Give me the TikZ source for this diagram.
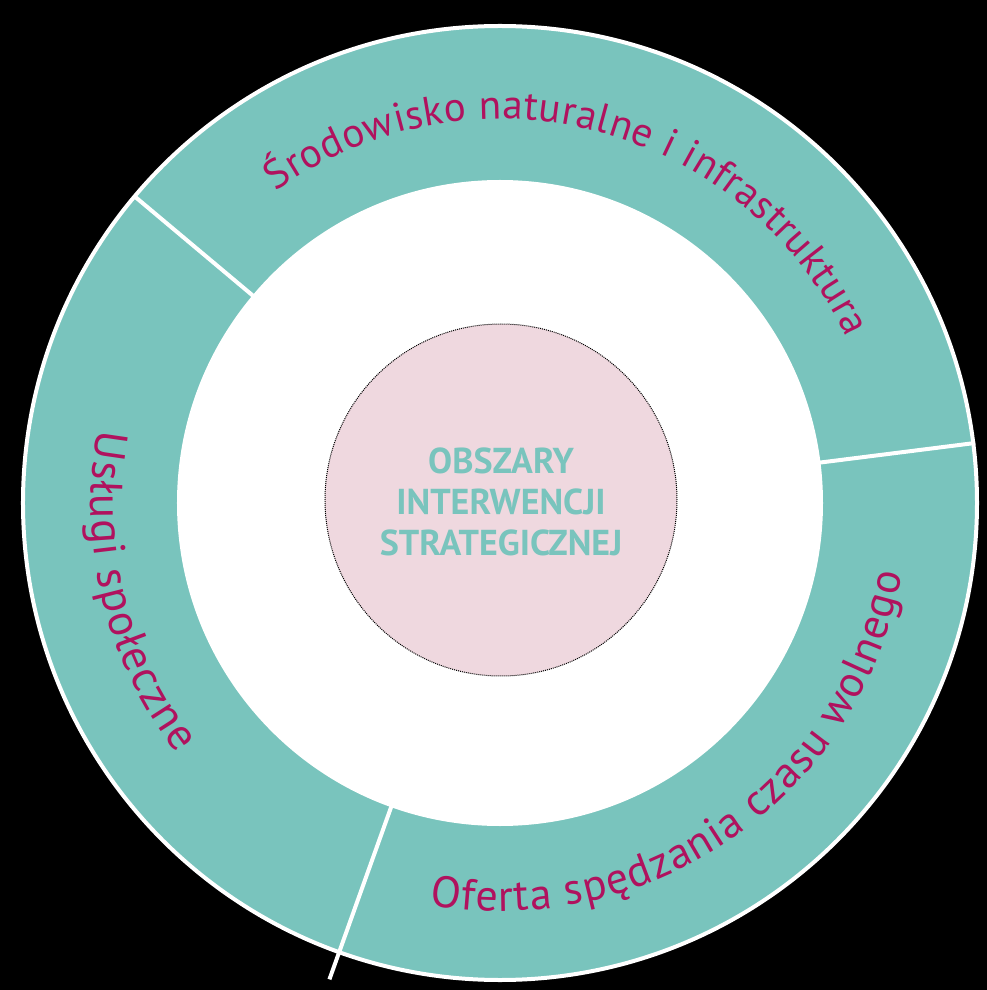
\documentclass[tikz,border=0pt]{standalone}
\usepackage{fontspec}
\setmainfont{PT Sans}
\usetikzlibrary{decorations.text}
\definecolor{ringteal}{HTML}{79C4BD}
\definecolor{corepink}{HTML}{EFD8DF}
\definecolor{labelmag}{HTML}{B0125E}
\begin{document}
\begin{tikzpicture}[x=1pt,y=1pt,
  sepline/.style={white, line width=4pt},
  arclabel/.style={decorate, decoration={text along path, text align=fit to path, text color=labelmag}},
  corestyle/.style={circle, fill=corepink, draw=black, densely dotted, line width=1pt, inner sep=0pt, minimum size=352pt},
  coretext/.style={font=\bfseries\fontsize{36}{41}\selectfont, text=ringteal, align=center}
]
\useasboundingbox (-500,-487) rectangle (487,503);
\fill[black] (-500,-487) rectangle (487,503);
% ring
\filldraw[fill=ringteal, draw=white, line width=4pt] (0,0) circle (477);
\fill[white] (0,0) circle (323);
% separators
\coordinate (s1a) at (140:321); \coordinate (s1b) at (140:477);
\coordinate (s2a) at (7.2:321); \coordinate (s2b) at (7.2:479);
\coordinate (s3a) at (250.3:321); \coordinate (s3b) at (250.3:506);
\draw[sepline] (s1a) -- (s1b);
\draw[sepline] (s2a) -- (s2b);
\draw[sepline] (s3a) -- (s3b);
% core
\node[corestyle] (core) at (1,3) {};
\node[coretext] (coretxt) at (1,1) {OBSZARY\\INTERWENCJI\\STRATEGICZNEJ};
% arc labels
\path[arclabel, decoration={text={|\fontsize{41}{41}\selectfont|Środowisko naturalne i infrastruktura}}]
  (125.7:384) arc[start angle=125.7, end angle=25.5, radius=384];
\path[arclabel, decoration={text={|\fontsize{45}{45}\selectfont|Usługi społeczne}}]
  (169.7:409) arc[start angle=169.7, end angle=217.8, radius=409];
\path[arclabel, decoration={text={|\fontsize{44}{44}\selectfont|Oferta spędzania czasu wolnego}}]
  (260:408) arc[start angle=260, end angle=350, radius=408];
\end{tikzpicture}
\end{document}
